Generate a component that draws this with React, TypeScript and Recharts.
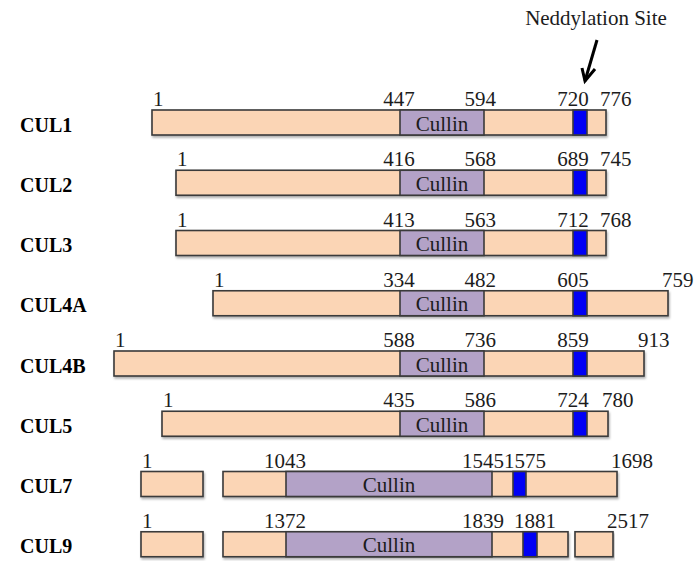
import React from 'react';
import { ComposedChart, Bar, XAxis, YAxis } from 'recharts';

// ---- data -------------------------------------------------------------
const proteins = ['CUL1', 'CUL2', 'CUL3', 'CUL4A', 'CUL4B', 'CUL5', 'CUL7', 'CUL9'];
const lengthRes = [776, 745, 768, 759, 913, 780, 1698, 2517];
const cullinStartRes = [447, 416, 413, 334, 588, 435, 1043, 1372];
const cullinEndRes = [594, 568, 563, 482, 736, 586, 1545, 1839];
const neddylationRes = [720, 689, 712, 605, 859, 724, 1575, 1881];

// schematic (not-to-scale) extents of the drawn boxes along the diagram axis
type Span = [number, number] | null;
const segmentA: Span[] = [[152, 606], [176, 606], [176, 606], [213, 668], [114, 644], [162, 608], [141, 203], [141, 203]];
const segmentB: Span[] = [null, null, null, null, null, null, [223, 617], [223, 568]];
const segmentC: Span[] = [null, null, null, null, null, null, null, [575, 613]];
const cullinBox: Span[] = [[400, 484], [400, 484], [400, 484], [400, 484], [400, 484], [400, 484], [286, 492], [286, 492]];
const siteBox: Span[] = [[573, 587], [573, 587], [573, 587], [573, 587], [573, 587], [573, 587], [513, 526], [523, 537]];
const schematicDomain: [number, number] = [0, 699];
const annotation = 'Neddylation Site';

const rows = proteins.map((name, i) => ({
  name,
  segA: segmentA[i],
  segB: segmentB[i],
  segC: segmentC[i],
  cullin: cullinBox[i],
  site: siteBox[i],
  len: lengthRes[i],
  cs: cullinStartRes[i],
  ce: cullinEndRes[i],
  nedd: neddylationRes[i],
}));

// ---- styles -----------------------------------------------------------
const FONT = '"Liberation Serif", "Times New Roman", serif';
const PEACH = '#FBD5B5';
const PURPLE = '#B3A2C7';
const BLUE = '#0000F5';
const EDGE = '#3a3a3a';
const TXT = '#1c1c1c';
const FS = 21;

const numText = (x: number, y: number, v: any, anchor: 'start' | 'middle' | 'end') => (
  <text x={x} y={y} textAnchor={anchor} fontFamily={FONT} fontSize={FS} fill={TXT}>{String(v)}</text>
);

const segShape = (key: 'segA' | 'segB' | 'segC') => (props: any) => {
  const p = props.payload ?? props;
  const span = p[key];
  if (!span) return null;
  const { x, y, width, height } = props;
  if (![x, y, width, height].every((v) => Number.isFinite(v))) return null;
  const isLast = key === 'segA' ? !p.segB : key === 'segB' ? !p.segC : true;
  return (
    <g>
      <rect x={x} y={y} width={width} height={height} fill={PEACH} stroke={EDGE} strokeWidth={1.6} filter="url(#boxShadow)" />
      {key === 'segA' && numText(x + 1, y - 4, 1, 'start')}
      {key === 'segA' && (
        <text x={20} y={y + height / 2 + 9} fontFamily={FONT} fontSize={20} fontWeight="bold" fill="#000">{p.name}</text>
      )}
      {isLast && numText(x + width - 6, y - 4, p.len, 'start')}
    </g>
  );
};

const cullinShape = (props: any) => {
  const p = props.payload ?? props;
  if (!p.cullin) return null;
  const { x, y, width, height } = props;
  if (![x, y, width, height].every((v) => Number.isFinite(v))) return null;
  return (
    <g>
      <rect x={x} y={y} width={width} height={height} fill={PURPLE} stroke={EDGE} strokeWidth={1.6} />
      <text x={x + width / 2} y={y + height / 2 + 8} textAnchor="middle" fontFamily={FONT} fontSize={FS} fill={TXT}>Cullin</text>
      {numText(x - 1, y - 4, p.cs, 'middle')}
      {numText(x + width + 12, y - 4, p.ce, 'end')}
    </g>
  );
};

const siteShape = (props: any) => {
  const p = props.payload ?? props;
  if (!p.site) return null;
  const { x, y, width, height, index } = props;
  if (![x, y, width, height].every((v) => Number.isFinite(v))) return null;
  const label = String(p.nedd);
  const lx = x + (label.length > 3 ? 12 : 0);
  const tipX = x + 12;
  const tipY = y - 29;
  return (
    <g>
      <rect x={x} y={y} width={width} height={height} fill={BLUE} stroke={EDGE} strokeWidth={1.6} />
      {numText(lx, y - 4, label, 'middle')}
      {index === 0 && (
        <g>
          <line x1={tipX + 12} y1={tipY - 41} x2={tipX} y2={tipY} stroke="#000" strokeWidth={3} />
          <path d={`M ${tipX - 3} ${tipY - 13} L ${tipX} ${tipY} L ${tipX + 10} ${tipY - 12}`} fill="none" stroke="#000" strokeWidth={3} />
          <text x={tipX + 11} y={tipY - 56} textAnchor="middle" fontFamily={FONT} fontSize={FS} fill={TXT}>{annotation}</text>
        </g>
      )}
    </g>
  );
};

export default function App() {
  return (
    <div style={{ position: 'absolute', left: 0, top: 0, width: 699, height: 561, overflow: 'hidden', background: '#fff' }}>
      <ComposedChart
        width={699}
        height={574}
        data={rows}
        layout="vertical"
        margin={{ top: 92, right: 0, bottom: 0, left: 0 }}
        barSize={25}
        barGap={-25}
      >
        <defs>
          <filter id="boxShadow" x="-5%" y="-20%" width="110%" height="160%">
            <feDropShadow dx="1" dy="2" stdDeviation="1" floodColor="#000" floodOpacity="0.3" />
          </filter>
        </defs>
        <XAxis type="number" domain={schematicDomain} allowDataOverflow hide />
        <YAxis type="category" dataKey="name" hide />
        <Bar dataKey="segA" shape={segShape('segA')} isAnimationActive={false} />
        <Bar dataKey="segB" shape={segShape('segB')} isAnimationActive={false} />
        <Bar dataKey="segC" shape={segShape('segC')} isAnimationActive={false} />
        <Bar dataKey="cullin" shape={cullinShape} isAnimationActive={false} />
        <Bar dataKey="site" shape={siteShape} isAnimationActive={false} />
      </ComposedChart>
    </div>
  );
}
